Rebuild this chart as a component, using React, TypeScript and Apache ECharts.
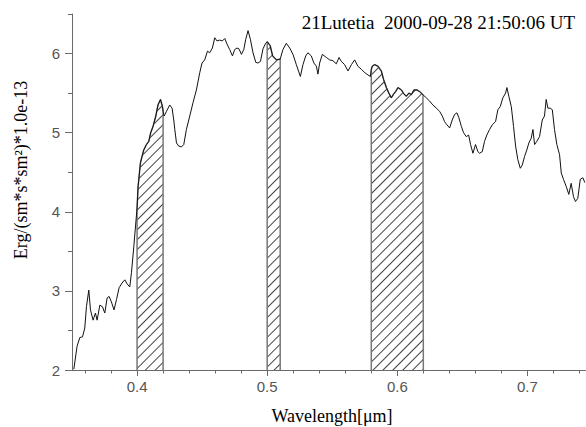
import React, { useEffect, useRef } from 'react';
import * as echarts from 'echarts';

const wavelength = [
  0.3514, 0.3539, 0.3560, 0.3581, 0.3598, 0.3611, 0.3629, 0.3642, 0.3662, 0.3680,
  0.3693, 0.3714, 0.3734, 0.3752, 0.3770, 0.3785, 0.3803, 0.3823, 0.3842, 0.3862,
  0.3885, 0.3906, 0.3923, 0.3944, 0.3957, 0.3975, 0.4000, 0.4008, 0.4026, 0.4051,
  0.4072, 0.4090, 0.4105, 0.4123, 0.4144, 0.4161, 0.4180, 0.4195, 0.4200, 0.4208,
  0.4226, 0.4251, 0.4269, 0.4282, 0.4290, 0.4303, 0.4320, 0.4341, 0.4359, 0.4379,
  0.4405, 0.4430, 0.4456, 0.4482, 0.4499, 0.4520, 0.4541, 0.4558, 0.4579, 0.4597,
  0.4614, 0.4635, 0.4656, 0.4674, 0.4694, 0.4712, 0.4733, 0.4750, 0.4768, 0.4783,
  0.4802, 0.4820, 0.4835, 0.4853, 0.4871, 0.4891, 0.4912, 0.4929, 0.4948, 0.4968,
  0.4988, 0.5000, 0.5023, 0.5042, 0.5071, 0.5100, 0.5121, 0.5147, 0.5173, 0.5198,
  0.5224, 0.5255, 0.5275, 0.5296, 0.5313, 0.5339, 0.5359, 0.5378, 0.5390, 0.5403,
  0.5424, 0.5455, 0.5480, 0.5505, 0.5531, 0.5552, 0.5570, 0.5595, 0.5621, 0.5647,
  0.5672, 0.5697, 0.5724, 0.5749, 0.5774, 0.5793, 0.5800, 0.5808, 0.5826, 0.5851,
  0.5877, 0.5895, 0.5916, 0.5935, 0.5954, 0.5972, 0.5987, 0.6005, 0.6031, 0.6051,
  0.6069, 0.6089, 0.6108, 0.6128, 0.6151, 0.6171, 0.6197, 0.6200, 0.6223, 0.6248,
  0.6273, 0.6300, 0.6325, 0.6346, 0.6363, 0.6381, 0.6402, 0.6422, 0.6440, 0.6458,
  0.6473, 0.6492, 0.6509, 0.6530, 0.6548, 0.6563, 0.6581, 0.6601, 0.6619, 0.6632,
  0.6653, 0.6670, 0.6688, 0.6709, 0.6730, 0.6755, 0.6773, 0.6791, 0.6811, 0.6832,
  0.6842, 0.6857, 0.6876, 0.6893, 0.6909, 0.6926, 0.6945, 0.6960, 0.6978, 0.6995,
  0.7011, 0.7029, 0.7042, 0.7055, 0.7072, 0.7093, 0.7114, 0.7131, 0.7144, 0.7157,
  0.7175, 0.7191, 0.7208, 0.7226, 0.7247, 0.7260, 0.7277, 0.7298, 0.7318, 0.7336,
  0.7354, 0.7369, 0.7387, 0.7406, 0.7426, 0.7441,
];

const flux = [
  2.01, 2.30, 2.41, 2.42, 2.53, 2.80, 3.01, 2.76, 2.63, 2.72,
  2.63, 2.82, 2.80, 2.72, 2.91, 2.93, 2.86, 2.76, 2.89, 3.04,
  3.10, 3.14, 3.09, 3.05, 3.23, 3.56, 4.05, 4.32, 4.62, 4.78,
  4.85, 4.89, 5.00, 5.08, 5.21, 5.35, 5.42, 5.33, 5.27, 5.21,
  5.27, 5.35, 5.31, 5.16, 5.04, 4.87, 4.83, 4.82, 4.85, 5.04,
  5.21, 5.38, 5.54, 5.76, 5.88, 5.92, 6.03, 6.01, 6.07, 6.20,
  6.16, 6.17, 6.16, 6.19, 6.11, 6.05, 5.97, 6.05, 6.07, 6.06,
  5.99, 6.05, 6.18, 6.29, 6.18, 6.01, 5.89, 5.88, 5.90, 6.06,
  6.13, 6.15, 6.10, 5.97, 5.92, 5.93, 6.05, 6.13, 6.07, 5.99,
  5.86, 5.71, 5.86, 5.97, 6.01, 5.97, 5.88, 5.84, 5.74, 5.88,
  5.99, 5.95, 5.92, 5.91, 5.87, 5.95, 5.90, 5.86, 5.78, 5.86,
  5.92, 5.84, 5.80, 5.76, 5.73, 5.71, 5.80, 5.84, 5.86, 5.84,
  5.78, 5.67, 5.57, 5.50, 5.44, 5.49, 5.52, 5.57, 5.54, 5.49,
  5.46, 5.50, 5.48, 5.54, 5.54, 5.52, 5.48, 5.48, 5.44, 5.40,
  5.35, 5.31, 5.27, 5.21, 5.14, 5.10, 5.06, 5.16, 5.23, 5.25,
  5.19, 5.08, 5.00, 4.95, 4.97, 4.85, 4.74, 4.85, 4.76, 4.74,
  4.76, 4.89, 4.97, 5.04, 5.10, 5.14, 5.29, 5.33, 5.44, 5.50,
  5.57, 5.46, 5.33, 5.08, 4.83, 4.66, 4.55, 4.59, 4.70, 4.78,
  4.87, 4.93, 5.04, 4.85, 4.89, 4.95, 5.16, 5.21, 5.42, 5.31,
  5.31, 5.29, 5.04, 4.85, 4.72, 4.49, 4.41, 4.32, 4.22, 4.36,
  4.19, 4.13, 4.17, 4.41, 4.43, 4.37,
];

const bandStart = [0.40, 0.50, 0.58];
const bandEnd = [0.42, 0.51, 0.62];

const xMajorTicks = [0.4, 0.5, 0.6, 0.7];
const xMinorTicks = [0.36, 0.38, 0.42, 0.44, 0.46, 0.48, 0.52, 0.54, 0.56, 0.58, 0.62, 0.64, 0.66, 0.68, 0.72, 0.74];
const yMajorTicks = [2, 3, 4, 5, 6];
const yMinorTicks = [2.5, 3.5, 4.5, 5.5, 6.5];

const xMin = 0.35;
const xMax = 0.745;
const yMin = 2;
const yMax = 6.5;

const titleText = '21Lutetia  2000-09-28 21:50:06 UT';
const xName = 'Wavelength[\u03bcm]';
const yName = 'Erg/(sm*s*sm\u00b2)*1.0e-13';

export default function App() {
  const ref = useRef<HTMLDivElement>(null);

  useEffect(() => {
    const chart = echarts.init(ref.current!, null, { renderer: 'svg' });
    const curve = wavelength.map((w, i) => [w, flux[i]]);
    const axisColor = '#6a6a6a';
    const labelColor = '#555555';

    const hatch = {
      symbol: 'rect',
      symbolSize: 1,
      color: '#444444',
      dashArrayX: [10, 0],
      dashArrayY: [1, 6],
      rotation: -Math.PI / 4,
    };

    const bandSeries = bandStart.map((lo, k) => {
      const hi = bandEnd[k];
      const pts = curve.filter((p) => p[0] >= lo - 1e-9 && p[0] <= hi + 1e-9);
      return {
        type: 'line',
        data: [[lo, yMin], ...pts, [hi, yMin]],
        showSymbol: false,
        silent: true,
        z: 1,
        lineStyle: { color: '#777777', width: 1.5, decal: hatch },
        itemStyle: { decal: hatch },
        areaStyle: { color: '#ffffff', opacity: 1, origin: 'start' },
      };
    });

    chart.setOption({
      animation: false,
      backgroundColor: '#ffffff',
      grid: { left: 72, right: 0, top: 14, bottom: 57, containLabel: false, outerBoundsMode: 'none' },
      xAxis: [
        {
          type: 'value',
          min: xMin,
          max: xMax,
          position: 'bottom',
          axisLine: { show: true, onZero: false, lineStyle: { color: axisColor, width: 1 } },
          axisTick: { show: true, customValues: xMajorTicks, length: 6, lineStyle: { color: axisColor } },
          axisLabel: {
            customValues: xMajorTicks,
            formatter: (v: number) => v.toFixed(1),
            color: labelColor,
            fontSize: 15,
            fontFamily: 'Liberation Sans',
            margin: 9,
          },
          splitLine: { show: false },
        },
        {
          type: 'value',
          min: xMin,
          max: xMax,
          position: 'bottom',
          axisLine: { show: false, onZero: false },
          axisTick: { show: true, customValues: xMinorTicks, length: 3.5, lineStyle: { color: axisColor } },
          axisLabel: { show: false },
          splitLine: { show: false },
        },
      ],
      yAxis: [
        {
          type: 'value',
          min: yMin,
          max: yMax,
          interval: 1,
          position: 'left',
          axisLine: { show: true, onZero: false, lineStyle: { color: axisColor, width: 1 } },
          axisTick: { show: true, customValues: yMajorTicks, length: 7, lineStyle: { color: axisColor } },
          axisLabel: {
            customValues: yMajorTicks,
            formatter: (v: number) => String(v),
            color: labelColor,
            fontSize: 15,
            fontFamily: 'Liberation Sans',
            margin: 12,
          },
          splitLine: { show: false },
        },
        {
          type: 'value',
          min: yMin,
          max: yMax,
          position: 'left',
          axisLine: { show: false, onZero: false },
          axisTick: { show: true, customValues: yMinorTicks, length: 4, lineStyle: { color: axisColor } },
          axisLabel: { show: false },
          splitLine: { show: false },
        },
      ],
      graphic: [
        {
          type: 'text',
          x: 575,
          y: 22,
          style: {
            text: titleText,
            align: 'right',
            verticalAlign: 'middle',
            fontSize: 19,
            fontFamily: 'Liberation Serif',
            fill: '#000000',
          },
        },
        {
          type: 'text',
          x: 332,
          y: 416,
          style: {
            text: xName,
            align: 'center',
            verticalAlign: 'middle',
            fontSize: 18,
            fontFamily: 'Liberation Serif',
            fill: '#000000',
          },
        },
        {
          type: 'text',
          x: 21,
          y: 170,
          rotation: Math.PI / 2,
          style: {
            text: yName,
            align: 'center',
            verticalAlign: 'middle',
            fontSize: 18,
            fontFamily: 'Liberation Serif',
            fill: '#000000',
          },
        },
      ],
      series: [
        ...bandSeries,
        {
          type: 'line',
          data: curve,
          showSymbol: false,
          silent: true,
          z: 3,
          lineStyle: { color: '#111111', width: 1 },
        },
      ],
    });

    return () => chart.dispose();
  }, []);

  return (
    <div
      ref={ref}
      style={{ position: 'fixed', left: 0, top: 0, width: 586, height: 427, background: '#fff' }}
    />
  );
}
